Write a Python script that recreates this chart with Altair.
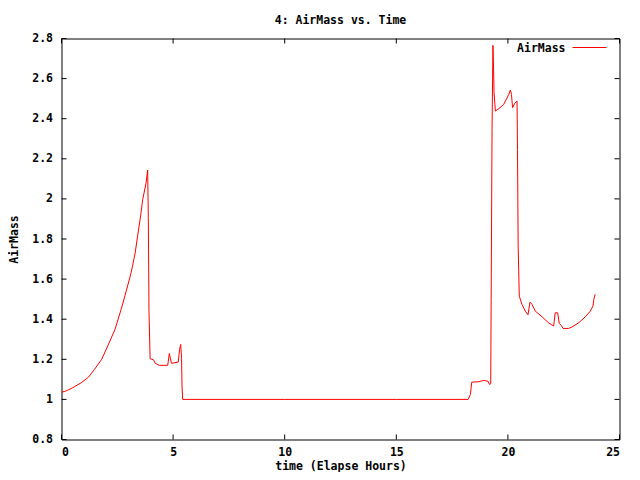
import altair as alt
import pandas as pd

# ---- data ----
time_h = [0.0, 0.15, 0.28, 0.5, 0.88, 1.2, 1.48, 1.8, 2.07, 2.4, 2.67, 2.9, 3.12, 3.3,
          3.41, 3.55, 3.64, 3.79, 3.86, 3.89, 3.92, 3.97, 4.12, 4.2, 4.38, 4.76, 4.83,
          4.93, 5.23, 5.29, 5.34, 5.38, 5.40, 5.43, 10.0, 15.0, 18.22, 18.32, 18.38,
          18.69, 18.92, 19.11, 19.17, 19.23, 19.25, 19.29, 19.33, 19.35, 19.38, 19.44,
          19.59, 19.81, 20.04, 20.11, 20.16, 20.21, 20.30, 20.41, 20.43, 20.46, 20.51,
          20.63, 20.78, 20.90, 20.99, 21.08, 21.23, 21.53, 21.82, 22.05, 22.12, 22.23,
          22.30, 22.39, 22.47, 22.72, 22.87, 23.17, 23.47, 23.69, 23.81, 23.85, 23.91]
airmass = [1.036, 1.040, 1.046, 1.058, 1.083, 1.11, 1.15, 1.20, 1.266, 1.35, 1.449, 1.54,
           1.632, 1.73, 1.815, 1.92, 1.998, 2.08, 2.144, 1.906, 1.44, 1.203, 1.198, 1.18,
           1.17, 1.17, 1.229, 1.18, 1.186, 1.249, 1.274, 1.203, 1.066, 1.0, 1.0, 1.0, 1.0,
           1.025, 1.086, 1.088, 1.095, 1.09, 1.075, 1.078, 1.499, 2.347, 2.766, 2.687,
           2.53, 2.438, 2.45, 2.471, 2.521, 2.543, 2.521, 2.455, 2.476, 2.488, 2.247,
           1.765, 1.515, 1.474, 1.44, 1.422, 1.485, 1.474, 1.44, 1.412, 1.382, 1.366,
           1.432, 1.432, 1.379, 1.369, 1.354, 1.354, 1.361, 1.382, 1.412, 1.44, 1.465,
           1.499, 1.524]
x_ticks = [0, 5, 10, 15, 20, 25]
y_ticks = [0.8, 1.0, 1.2, 1.4, 1.6, 1.8, 2.0, 2.2, 2.4, 2.6, 2.8]
series_name = "AirMass"
chart_title = "4: AirMass vs. Time"

W, H = 558, 401
FONT = "DejaVu Sans Mono"
FS = 11.5
TICK = 5

df = pd.DataFrame({"t": time_h, "v": airmass})
xt = pd.DataFrame({"t": x_ticks})
yt = pd.DataFrame({"v": y_ticks})

xscale = alt.Scale(domain=[0, 25], nice=False, zero=False)
yscale = alt.Scale(domain=[0.8, 2.8], nice=False, zero=False)

line = alt.Chart(df).mark_line(color="#ff0000", strokeWidth=1).encode(
    x=alt.X("t:Q", scale=xscale, title="time (Elapse Hours)",
            axis=alt.Axis(values=x_ticks, format="~g",
                          labelPadding=7, titleX=W / 2, titleY=26.5,
                          titleBaseline="middle", titleAlign="center")),
    y=alt.Y("v:Q", scale=yscale, title="AirMass",
            axis=alt.Axis(values=y_ticks, format="~g",
                          labelPadding=9, titleX=-47, titleY=H / 2, titleAngle=270,
                          titleBaseline="middle", titleAlign="center")),
)

# inward ticks on all four sides (gnuplot style)
xb = alt.Chart(xt).mark_rule(color="black").encode(
    x=alt.X("t:Q"), y=alt.value(H), y2=alt.value(H - TICK))
xtop = alt.Chart(xt).mark_rule(color="black").encode(
    x=alt.X("t:Q"), y=alt.value(0), y2=alt.value(TICK))
yl = alt.Chart(yt).mark_rule(color="black").encode(
    y=alt.Y("v:Q"), x=alt.value(0), x2=alt.value(TICK))
yr = alt.Chart(yt).mark_rule(color="black").encode(
    y=alt.Y("v:Q"), x=alt.value(W), x2=alt.value(W - TICK))

# key (legend) at top right, label left of sample line
key_text = alt.Chart(pd.DataFrame({"name": [series_name]})).mark_text(
    align="right", baseline="middle", font=FONT, fontSize=FS, fontWeight="bold",
    color="black").encode(text="name:N", x=alt.value(504), y=alt.value(10))
key_line = alt.Chart(pd.DataFrame({"name": [series_name]})).mark_rule(
    color="#ff0000", strokeWidth=1).encode(
    x=alt.value(511), x2=alt.value(545), y=alt.value(9))

# chart title above the frame
title_text = alt.Chart(pd.DataFrame({"title": [chart_title]})).mark_text(
    align="center", baseline="alphabetic", font=FONT, fontSize=FS, fontWeight="bold",
    color="black").encode(text="title:N", x=alt.value(W / 2), y=alt.value(-15))

chart = alt.layer(line, xb, xtop, yl, yr, key_text, key_line, title_text).properties(
    width=W, height=H,
    padding={"left": 53.5, "top": 30.5, "right": 12, "bottom": 32},
    autosize=alt.AutoSizeParams(type="none"),
    background="white",
).configure_view(stroke="black", strokeWidth=1).configure_axis(
    domain=False, grid=False, ticks=False, tickSize=0,
    labelFont=FONT, labelFontSize=FS, labelFontWeight="bold", labelColor="black",
    titleFont=FONT, titleFontSize=FS, titleFontWeight="bold", titleColor="black",
)

chart.save("out.html", embed_options={"renderer": "svg", "actions": False})
